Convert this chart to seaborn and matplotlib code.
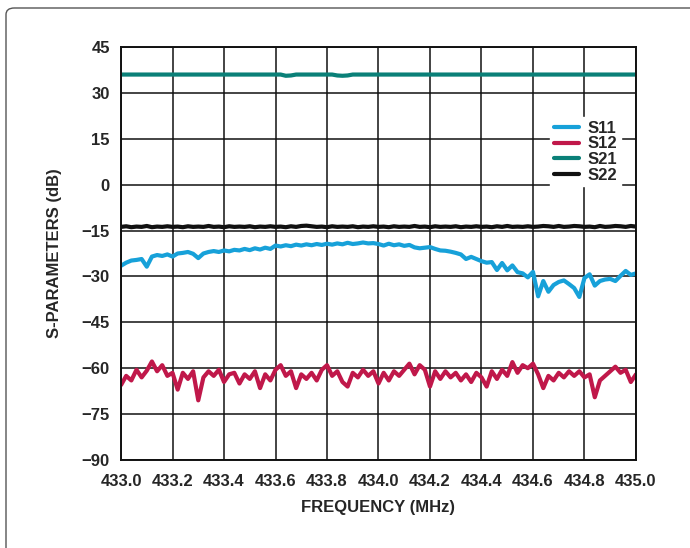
import numpy as np
import pandas as pd
import seaborn as sns
import matplotlib.pyplot as plt
from matplotlib.patches import FancyBboxPatch

# frequency sweep, 433.0 .. 435.0 MHz in 0.02 MHz steps
freq = np.round(np.linspace(433.0, 435.0, 101), 3)

s11 = [-26.5, -25.5, -24.8, -24.6, -24.3, -26.8, -23.5, -23.0, -23.3, -22.8,
       -23.5, -22.5, -22.3, -22.0, -22.6, -24.0, -22.5, -22.0, -21.7, -22.0,
       -21.5, -21.8, -21.3, -21.5, -21.0, -21.4, -20.8, -21.2, -20.6, -21.0,
       -19.9, -20.2, -19.8, -20.1, -19.6, -19.9, -19.5, -19.8, -19.4, -19.7,
       -19.3, -19.6, -19.2, -19.5, -19.0, -19.4, -19.2, -18.9, -19.2, -19.1,
       -19.4, -19.9, -19.3, -19.8, -19.5, -20.0, -19.7, -20.5, -20.8, -20.6,
       -20.4, -21.0, -21.5, -21.6, -21.9, -22.3, -22.8, -24.3, -23.6, -24.3,
       -25.0, -25.5, -25.3, -27.9, -25.6, -28.0, -26.4, -28.6, -29.0, -30.3,
       -28.5, -36.5, -31.5, -35.0, -32.8, -31.8, -31.3, -32.5, -33.8, -36.7,
       -30.5, -29.3, -33.0, -31.5, -31.0, -30.8, -31.5, -29.8, -28.2, -29.5,
       -29.0]

s12 = [-65.5, -62.5, -64.0, -60.5, -63.0, -60.8, -57.8, -61.0, -59.0, -62.5,
       -61.5, -67.0, -61.5, -63.5, -61.0, -70.5, -63.0, -61.0, -62.5, -60.5,
       -64.5, -62.0, -61.5, -65.0, -62.0, -63.5, -61.0, -66.5, -62.0, -64.0,
       -60.5, -59.0, -62.5, -61.0, -66.5, -62.0, -63.5, -61.5, -64.0, -60.5,
       -59.0, -62.5, -61.0, -64.5, -66.0, -61.5, -63.0, -60.5, -62.5, -61.0,
       -65.0, -61.5, -64.0, -61.0, -62.5, -60.5, -58.5, -62.0, -59.0, -60.5,
       -66.0, -61.0, -63.5, -61.0, -63.0, -61.5, -64.0, -62.0, -64.5, -61.5,
       -63.0, -66.0, -61.0, -63.5, -60.5, -62.5, -58.0, -61.5, -59.0, -60.0,
       -58.5, -62.0, -66.5, -62.5, -64.0, -61.5, -63.0, -61.0, -62.5, -61.0,
       -63.0, -62.0, -69.5, -64.0, -62.5, -61.0, -59.5, -61.5, -60.5, -64.5,
       -62.0]

s21 = [36.0, 36.0, 36.0, 36.0, 36.0, 36.0, 36.0, 36.0, 36.0, 36.0,
       36.0, 36.0, 36.0, 36.0, 36.0, 36.0, 36.0, 36.0, 36.0, 36.0,
       36.0, 36.0, 36.0, 36.0, 36.0, 36.0, 36.0, 36.0, 36.0, 36.0,
       36.0, 36.0, 35.6, 35.7, 36.0, 36.0, 36.0, 36.0, 36.0, 36.0,
       36.0, 36.0, 35.7, 35.6, 35.7, 36.0, 36.0, 36.0, 36.0, 36.0,
       36.0, 36.0, 36.0, 36.0, 36.0, 36.0, 36.0, 36.0, 36.0, 36.0,
       36.0, 36.0, 36.0, 36.0, 36.0, 36.0, 36.0, 36.0, 36.0, 36.0,
       36.0, 36.0, 36.0, 36.0, 36.0, 36.0, 36.0, 36.0, 36.0, 36.0,
       36.0, 36.0, 36.0, 36.0, 36.0, 36.0, 36.0, 36.0, 36.0, 36.0,
       36.0, 36.0, 36.0, 36.0, 36.0, 36.0, 36.0, 36.0, 36.0, 36.0,
       36.0]

s22 = [-13.8, -13.6, -13.9, -13.7, -13.8, -13.5, -13.9, -13.7, -13.8, -13.6,
       -13.8, -13.7, -13.9, -13.6, -13.8, -13.7, -13.8, -13.5, -13.8, -13.7,
       -13.9, -13.6, -13.8, -13.7, -13.8, -13.6, -13.9, -13.7, -13.8, -13.6,
       -13.8, -13.7, -13.9, -13.6, -13.8, -13.5, -13.4, -13.6, -13.8, -13.7,
       -13.9, -13.6, -13.8, -13.7, -13.8, -13.6, -13.9, -13.7, -13.8, -13.6,
       -13.8, -13.7, -13.9, -13.6, -13.8, -13.7, -13.8, -13.5, -13.8, -13.7,
       -13.9, -13.6, -13.8, -13.7, -13.8, -13.6, -13.9, -13.7, -13.8, -13.6,
       -13.8, -13.7, -13.9, -13.6, -13.8, -13.5, -13.8, -13.7, -13.8, -13.6,
       -13.8, -13.7, -13.5, -13.6, -13.8, -13.5, -13.8, -13.7, -13.5, -13.6,
       -13.8, -13.7, -13.9, -13.5, -13.8, -13.7, -13.5, -13.6, -13.8, -13.5,
       -13.7]

traces = ['S11', 'S12', 'S21', 'S22']
colors = ['#17a1d9', '#c0184a', '#0a8078', '#111111']

df = pd.DataFrame({'freq': freq, 'S11': s11, 'S12': s12, 'S21': s21, 'S22': s22})
long_df = df.melt(id_vars='freq', var_name='param', value_name='dB')

sns.set_theme(style='white')
plt.rcParams['font.family'] = ['Liberation Sans', 'DejaVu Sans']
plt.rcParams['font.weight'] = 'bold'

fig = plt.figure(figsize=(6.9, 5.48), dpi=100)
ax = fig.add_axes([0.1754, 0.1606, 0.7463, 0.7536])

sns.lineplot(data=long_df, x='freq', y='dB', hue='param', hue_order=traces,
             palette=colors, linewidth=3.0, ax=ax, legend=True)

ax.set_xlim(433.0, 435.0)
ax.set_ylim(-90, 45)
ax.set_xticks(np.arange(433.0, 435.01, 0.2))
ax.set_xticklabels([f'{v:.1f}' for v in np.arange(433.0, 435.01, 0.2)])
ax.set_yticks(np.arange(-90, 46, 15))
ax.grid(True, color='#111111', linewidth=1.1)
ax.tick_params(axis='x', length=0, labelsize=12, pad=10)
ax.tick_params(axis='y', length=0, labelsize=12, pad=8)
for lab in ax.get_xticklabels() + ax.get_yticklabels():
    lab.set_fontweight('bold')
for sp in ax.spines.values():
    sp.set_color('#111111')
    sp.set_linewidth(1.4)

ax.set_xlabel('FREQUENCY (MHz)', fontsize=12, fontweight='bold', labelpad=8)
ax.set_ylabel('S-PARAMETERS (dB)', fontsize=12, fontweight='bold', labelpad=14)

leg = ax.legend(loc='upper right', bbox_to_anchor=(0.987, 0.85), frameon=True,
                fancybox=False, framealpha=1, edgecolor='white',
                handlelength=1.5, handletextpad=0.55, labelspacing=0.05,
                borderpad=0.2, prop={'weight': 'bold', 'size': 12})
for line in leg.get_lines():
    line.set_linewidth(3.0)

# rounded frame around the whole card
frame = FancyBboxPatch((6 / 690, -0.05), 1.2, 1.05 - 8 / 548,
                       boxstyle='round,pad=0,rounding_size=0.012',
                       transform=fig.transFigure, facecolor='none',
                       edgecolor='#555555', linewidth=1.0, clip_on=False)
fig.patches.append(frame)

fig.savefig('out.png', dpi=100)
